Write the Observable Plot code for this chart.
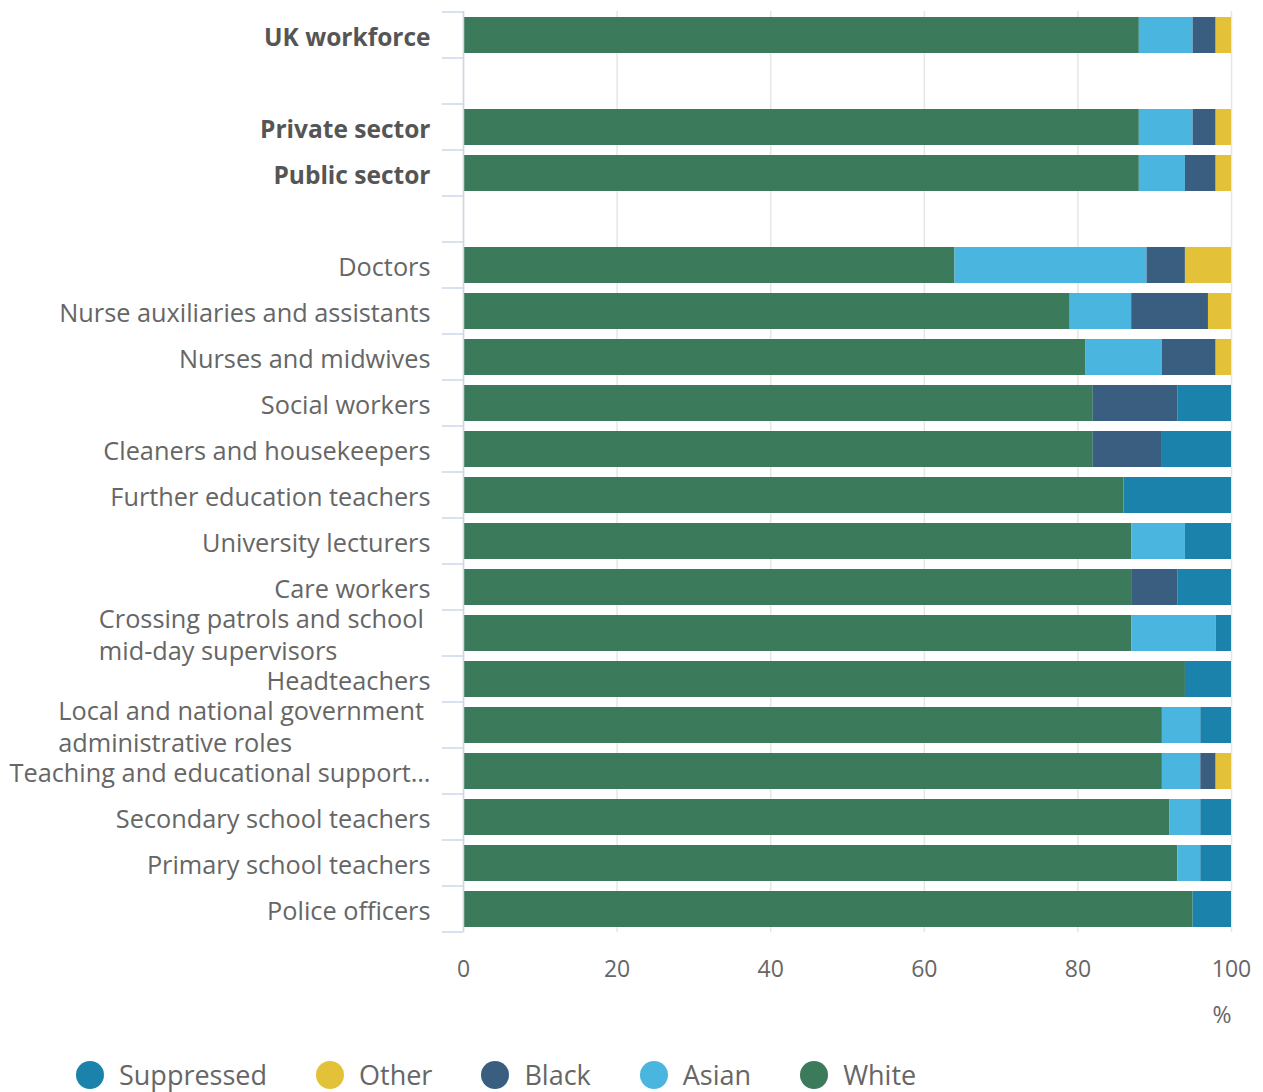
<!DOCTYPE html>
<html>
<head>
<meta charset="utf-8">
<script src="https://cdn.jsdelivr.net/npm/d3@7"></script>
<script src="https://cdn.jsdelivr.net/npm/@observablehq/plot@0.6"></script>
<style>
  body { margin: 0; background: #fff; font-family: 'Open Sans', sans-serif; }
  #legend { display: flex; align-items: center; height: 52px; box-sizing: border-box; padding: 18px 0 0 76px; }
  #legend .item { display: flex; align-items: center; margin-right: 49px; }
  #legend .swatch { width: 28px; height: 28px; border-radius: 50%; margin-right: 15px; }
  #legend .name { font-size: 27px; color: #666; line-height: 34px; }
</style>
</head>
<body>
<div id="chart"></div>
<div id="legend"></div>
<script>
// Share of each occupation by ethnic group (%), blank entries are spacer rows
const rows = [
  "UK workforce",
  " ",
  "Private sector",
  "Public sector",
  "  ",
  "Doctors",
  "Nurse auxiliaries and assistants",
  "Nurses and midwives",
  "Social workers",
  "Cleaners and housekeepers",
  "Further education teachers",
  "University lecturers",
  "Care workers",
  "Crossing patrols and school \nmid-day supervisors",
  "Headteachers",
  "Local and national government \nadministrative roles",
  "Teaching and educational support…",
  "Secondary school teachers",
  "Primary school teachers",
  "Police officers"
];
const boldRows = ["UK workforce", "Private sector", "Public sector"];

const white      = [88, 0, 88, 88, 0, 64, 79, 81, 82, 82, 86, 87, 87, 87, 94, 91, 91, 92, 93, 95];
const asian      = [ 7, 0,  7,  6, 0, 25,  8, 10,  0,  0,  0,  7,  0, 11,  0,  5,  5,  4,  3,  0];
const black      = [ 3, 0,  3,  4, 0,  5, 10,  7, 11,  9,  0,  0,  6,  0,  0,  0,  2,  0,  0,  0];
const other      = [ 2, 0,  2,  2, 0,  6,  3,  2,  0,  0,  0,  0,  0,  0,  0,  0,  2,  0,  0,  0];
const suppressed = [ 0, 0,  0,  0, 0,  0,  0,  0,  7,  9, 14,  6,  7,  2,  6,  4,  0,  4,  4,  5];

const series = ["White", "Asian", "Black", "Other", "Suppressed"];
const seriesValues = [white, asian, black, other, suppressed];
const colors = ["#3b7a5a", "#4ab5de", "#3a5e80", "#e3c23a", "#1b83ab"];
const xTicks = [0, 20, 40, 60, 80, 100];
const unitLabel = "%";

// Long-form table for stacking
const table = [];
rows.forEach((row, i) => {
  series.forEach((s, j) => {
    const v = seriesValues[j][i];
    if (v > 0) table.push({row, series: s, value: v});
  });
});

const chart = Plot.plot({
  width: 1263,
  height: 1040,
  marginTop: 11,
  marginBottom: 108,
  marginLeft: 463,
  marginRight: 32,
  style: {fontFamily: "'Open Sans', sans-serif", fontSize: "24px", color: "#666", background: "#fff"},
  x: {domain: [0, 100]},
  y: {domain: rows, paddingInner: 0.22, paddingOuter: 0.11},
  color: {domain: series, range: colors},
  marks: [
    Plot.gridX({ticks: xTicks, stroke: "#e6e6e6", strokeOpacity: 1, strokeWidth: 1.5}),
    Plot.barX(table, Plot.stackX({x: "value", y: "row", fill: "series", order: series})),
    Plot.ruleX([0], {stroke: "#ccd6eb", strokeWidth: 1.5}),
    Plot.axisX({ticks: xTicks, tickSize: 0, tickPadding: 28, fontSize: 23, fill: "#666", label: null}),
    // axis unit, under the right end of the value axis
    Plot.text([unitLabel], {
      text: d => d, frameAnchor: "bottom-right", textAnchor: "end",
      dy: 90, fontSize: 23, fill: "#666"
    }),
    Plot.axisY({
      tickSize: 0, tickPadding: 33, fontSize: 25.3, lineHeight: 1.28, fill: "#666",
      tickFormat: d => d.trim(), label: null
    })
  ]
});
document.getElementById("chart").append(chart);

const svg = d3.select(chart);

// Category axis: emphasise the summary rows, left-align wrapped labels
svg.selectAll('g[aria-label="y-axis tick label"] text').each(function () {
  const t = d3.select(this);
  if (boldRows.includes(this.textContent)) {
    t.attr("font-weight", 700).attr("fill", "#555").attr("font-size", 24.5);
  }
  const spans = this.querySelectorAll("tspan");
  if (spans.length > 1) {
    t.style("white-space", "pre");
    const w = this.getBBox().width;
    t.attr("text-anchor", "start");
    spans.forEach(s => s.setAttribute("x", -w));
  }
});

// Category axis ticks sit on the band boundaries
const ys = chart.scale("y");
const xs = chart.scale("x");
const half = (ys.step - ys.bandwidth) / 2;
const bounds = rows.map(r => ys.apply(r) - half);
bounds.push(ys.apply(rows[rows.length - 1]) + ys.bandwidth + half);
const x0 = xs.apply(0);
svg.append("g")
  .attr("stroke", "#ccd6eb")
  .attr("stroke-width", 1.5)
  .selectAll("line")
  .data(bounds)
  .join("line")
  .attr("x1", x0 - 21)
  .attr("x2", x0)
  .attr("y1", d => d)
  .attr("y2", d => d);

// Legend (reverse stacking order)
const legend = d3.select("#legend");
series.map((s, i) => ({s, c: colors[i]})).reverse().forEach(({s, c}) => {
  const item = legend.append("div").attr("class", "item");
  item.append("div").attr("class", "swatch").style("background", c);
  item.append("span").attr("class", "name").text(s);
});
</script>
</body>
</html>
